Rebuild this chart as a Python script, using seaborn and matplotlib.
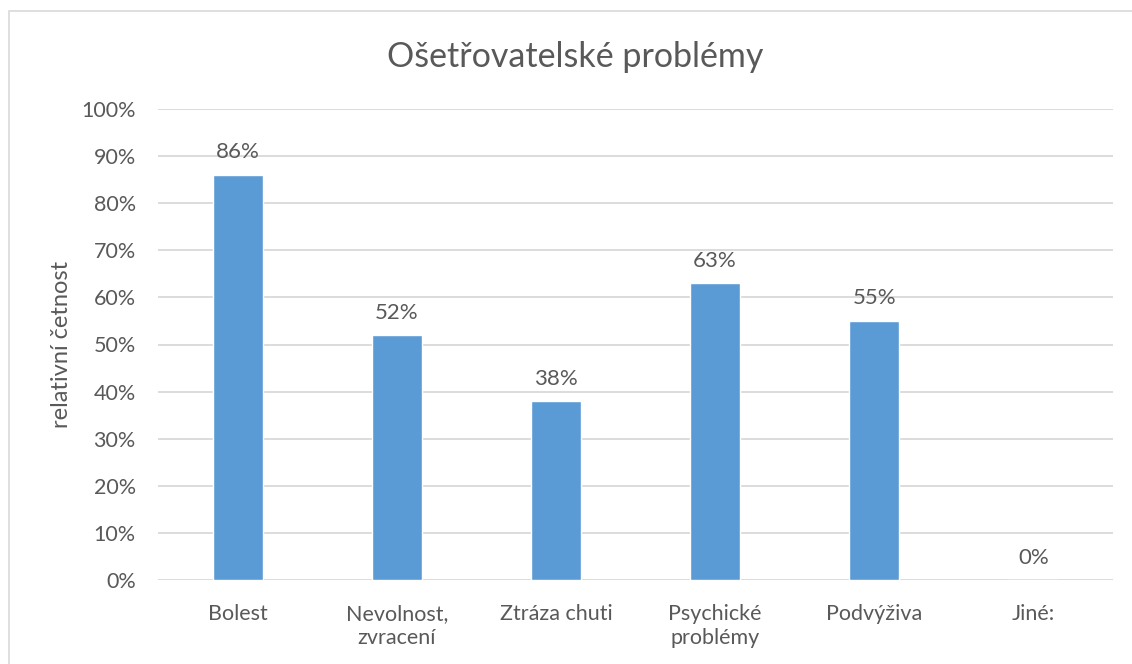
import matplotlib
matplotlib.use("Agg")
import matplotlib.pyplot as plt
import seaborn as sns
import pandas as pd
from matplotlib.patches import Rectangle

# --- DATA ---
categories = ["Bolest", "Nevolnost,\nzvracení", "Ztráza chuti", "Psychické\nproblémy", "Podvýživa", "Jiné:"]
values = [86, 52, 38, 63, 55, 0]
yticks = [0, 10, 20, 30, 40, 50, 60, 70, 80, 90, 100]

TEXT = "#595959"
GRID = "#D9D9D9"
BAR = "#5B9BD5"

sns.set_theme(style="white")
plt.rcParams['font.family'] = ['Lato', 'DejaVu Sans']

df = pd.DataFrame({"kategorie": categories, "hodnota": values})

W, H = 1132, 664
fig = plt.figure(figsize=(W / 100, H / 100), dpi=100)
ax = fig.add_axes([158 / W, 1 - 580 / H, (1113 - 158) / W, (580 - 109) / H])

sns.barplot(data=df, x="kategorie", y="hodnota", color=BAR, width=0.314,
            saturation=1, ax=ax, zorder=3)

ax.set_ylim(0, 100)
ax.set_xlim(-0.5, len(categories) - 0.5)
ax.set_yticks(yticks)
ax.set_yticklabels([f"{t}%" for t in yticks])
ax.yaxis.grid(True, color=GRID, linewidth=1.3, zorder=0)
ax.set_axisbelow(True)
for s in ax.spines.values():
    s.set_visible(False)
ax.tick_params(axis="both", length=0, colors=TEXT, labelsize=15.5)
ax.tick_params(axis="y", pad=16)
ax.tick_params(axis="x", pad=17)
for lbl in ax.get_xticklabels():
    lbl.set_linespacing(1.25)
ax.set_xlabel("")
ax.set_ylabel("relativní četnost", color=TEXT, fontsize=17, labelpad=7)

for p, v in zip(ax.patches, values):
    ax.annotate(f"{v}%", (p.get_x() + p.get_width() / 2, p.get_height()),
                xytext=(0, 9), textcoords="offset points",
                ha="center", va="bottom", color=TEXT, fontsize=16)

fig.text(575 / W, 1 - 57 / H, "Ošetřovatelské problémy", ha="center", va="center",
         color=TEXT, fontsize=24.5)

# chart frame (only left and top edges are visible in the crop)
fig.patches.append(Rectangle((9 / W, -0.1), 1.2, 1 - 11 / H + 0.1, transform=fig.transFigure,
                             fill=False, edgecolor=GRID, linewidth=1.2))

fig.savefig("out.png", dpi=100)
